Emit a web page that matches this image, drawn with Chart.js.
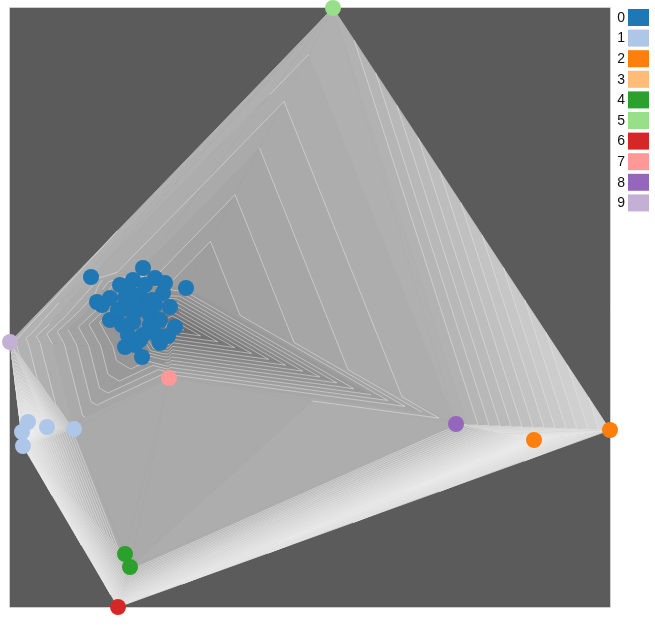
<!DOCTYPE html>
<html><head><meta charset="utf-8">
<script src="https://cdn.jsdelivr.net/npm/chart.js@4/dist/chart.umd.min.js"></script>
<style>html,body{margin:0;padding:0;background:#fff;}#wrap{width:655px;height:630px;}</style>
</head><body><div id="wrap"><canvas id="c" width="655" height="630"></canvas></div>
<script>
const classLabels = ['0','1','2','3','4','5','6','7','8','9'];
const classColors = ['#1f77b4','#aec7e8','#ff7f0e','#ffbb78','#2ca02c','#98df8a','#d62728','#ff9896','#9467bd','#c5b0d5'];

// scatter points (x, y in plot units), their class and the background field value at each point
const pointX = [91,143,133,155,128,163,186,110,125,140,170,147,102,97,110,122,133,150,143,157,175,168,125,140,160,142,138,152,130,118,
                135,145,150,160,128,118,155,135,120,165,
                28,22,23,47,74, 534,610, 125,130, 333, 118, 169, 456, 10];
const pointY = [277,268,280,278,288,293,288,298,298,295,307,308,305,302,320,325,322,325,335,335,327,336,347,340,343,357,310,300,310,312,
                300,285,315,320,335,310,305,345,285,283,
                422,432,446,427,429, 440,430, 554,567, 8, 607, 378, 424, 342];
const pointClass = [0,0,0,0,0,0,0,0,0,0,0,0,0,0,0,0,0,0,0,0,0,0,0,0,0,0,0,0,0,0,
                    0,0,0,0,0,0,0,0,0,0,
                    1,1,1,1,1, 2,2, 4,4, 5, 6, 7, 8, 9];
const pointLevel = [0.48,0.44,0.38,0.40,0.36,0.34,0.38,0.38,0.34,0.32,0.24,0.28,0.40,0.42,0.34,0.32,0.30,0.24,0.28,0.22,0.15,0.16,0.34,0.30,0.21,0.34,0.30,0.32,0.32,0.34,
                    0.32,0.36,0.28,0.21,0.32,0.34,0.30,0.32,0.38,0.38,
                    0.94,0.94,0.94,0.90,0.46, 0.94,0.76, 0.44,0.46, 0.50, 0.875, 0.44, 0.48, 0.53];
const levelCount = 50;

// grey ramp used for the filled bands: [field value, grey]
const greyStops = [[0.0, 70], [0.2, 118], [0.44, 168], [0.5, 177], [0.62, 193], [0.76, 214], [0.94, 236], [1.0, 242]];

const xRange = [10, 610];
const yRange = [8, 607];

function grayOf(v){
  let g = greyStops[greyStops.length-1][1];
  if(v <= greyStops[0][0]) g = greyStops[0][1];
  else for(let i=1;i<greyStops.length;i++){
    if(v <= greyStops[i][0]){
      const [v0,g0]=greyStops[i-1],[v1,g1]=greyStops[i];
      g = g0 + (v-v0)/(v1-v0)*(g1-g0); break;
    }
  }
  g = Math.round(g);
  return 'rgb('+g+','+g+','+g+')';
}

function delaunay(pts){
  const n = pts.length;
  let minX=Infinity,minY=Infinity,maxX=-Infinity,maxY=-Infinity;
  pts.forEach(p=>{minX=Math.min(minX,p[0]);minY=Math.min(minY,p[1]);maxX=Math.max(maxX,p[0]);maxY=Math.max(maxY,p[1]);});
  const d = Math.max(maxX-minX, maxY-minY)*20, mx=(minX+maxX)/2, my=(minY+maxY)/2;
  const all = pts.concat([[mx-2*d,my-d],[mx+2*d,my-d],[mx,my+2*d]]);
  function circ(t){
    const [ax,ay]=all[t[0]],[bx,by]=all[t[1]],[cx,cy]=all[t[2]];
    const D = 2*(ax*(by-cy)+bx*(cy-ay)+cx*(ay-by));
    const ux = ((ax*ax+ay*ay)*(by-cy)+(bx*bx+by*by)*(cy-ay)+(cx*cx+cy*cy)*(ay-by))/D;
    const uy = ((ax*ax+ay*ay)*(cx-bx)+(bx*bx+by*by)*(ax-cx)+(cx*cx+cy*cy)*(bx-ax))/D;
    return {t, ux, uy, r2:(ax-ux)*(ax-ux)+(ay-uy)*(ay-uy)};
  }
  let tris = [circ([n,n+1,n+2])];
  for(let i=0;i<n;i++){
    const [px,py]=all[i];
    const keep=[], edges=new Map();
    tris.forEach(c=>{
      if((px-c.ux)*(px-c.ux)+(py-c.uy)*(py-c.uy) < c.r2){
        const t=c.t;
        [[t[0],t[1]],[t[1],t[2]],[t[2],t[0]]].forEach(([a,b])=>{
          const k=Math.min(a,b)+'_'+Math.max(a,b);
          edges.set(k, edges.has(k)? null : [a,b]);
        });
      } else keep.push(c);
    });
    edges.forEach(e=>{ if(e) keep.push(circ([e[0],e[1],i])); });
    tris = keep;
  }
  return tris.map(c=>c.t).filter(t=>t.every(v=>v<n));
}

function clipPoly(poly, lvl, keepAbove){
  const out=[];
  for(let i=0;i<poly.length;i++){
    const a=poly[i], b=poly[(i+1)%poly.length];
    const ain = keepAbove ? a[2]>=lvl : a[2]<=lvl;
    const bin = keepAbove ? b[2]>=lvl : b[2]<=lvl;
    if(ain) out.push(a);
    if(ain!==bin){
      const t=(lvl-a[2])/(b[2]-a[2]);
      out.push([a[0]+t*(b[0]-a[0]), a[1]+t*(b[1]-a[1]), lvl]);
    }
  }
  return out;
}

const contourPlugin = {
  id:'contour',
  beforeDraw(chart){
    const {ctx, chartArea:a} = chart;
    ctx.save();
    ctx.fillStyle='#5b5b5b';
    ctx.fillRect(a.left, a.top, a.right-a.left, a.bottom-a.top);
    ctx.restore();
  },
  beforeDatasetsDraw(chart){
    const {ctx, scales:{x, y}} = chart;
    const pts = pointX.map((vx,i)=>[x.getPixelForValue(vx), y.getPixelForValue(pointY[i])]);
    const tris = delaunay(pts);
    const step = 1/levelCount;
    ctx.save();
    ctx.lineJoin='round';
    tris.forEach(t=>{
      const tri = t.map(k=>[pts[k][0], pts[k][1], pointLevel[k]]);
      const vs = tri.map(p=>p[2]);
      const vmin=Math.min(...vs), vmax=Math.max(...vs);
      const k0=Math.floor(vmin/step), k1=Math.min(levelCount-1, Math.floor(vmax/step));
      for(let k=k0;k<=k1;k++){
        const lo=k*step, hi=(k+1)*step;
        let poly = clipPoly(tri, lo, true);
        if(poly.length<3) continue;
        poly = clipPoly(poly, hi, false);
        if(poly.length<3) continue;
        const col = grayOf(lo+step/2);
        ctx.beginPath();
        poly.forEach((p,i)=> i?ctx.lineTo(p[0],p[1]):ctx.moveTo(p[0],p[1]));
        ctx.closePath();
        ctx.fillStyle=col; ctx.fill();
        ctx.strokeStyle=col; ctx.lineWidth=0.8; ctx.stroke();
      }
    });
    // iso-lines
    ctx.strokeStyle='rgba(235,235,235,0.55)';
    ctx.lineWidth=0.9;
    tris.forEach(t=>{
      const tri = t.map(k=>[pts[k][0], pts[k][1], pointLevel[k]]);
      const vs = tri.map(p=>p[2]);
      const vmin=Math.min(...vs), vmax=Math.max(...vs);
      for(let k=Math.ceil(vmin*levelCount);k<levelCount;k++){
        const L=k*step;
        if(L<=vmin || L>=vmax) continue;
        const seg=[];
        for(let i=0;i<3;i++){
          const a=tri[i], b=tri[(i+1)%3];
          if((a[2]-L)*(b[2]-L)<0){
            const tt=(L-a[2])/(b[2]-a[2]);
            seg.push([a[0]+tt*(b[0]-a[0]), a[1]+tt*(b[1]-a[1])]);
          }
        }
        if(seg.length===2){
          ctx.beginPath(); ctx.moveTo(seg[0][0],seg[0][1]); ctx.lineTo(seg[1][0],seg[1][1]); ctx.stroke();
        }
      }
    });
    // frame
    const a = chart.chartArea;
    ctx.strokeStyle='#cfcfcf'; ctx.lineWidth=1;
    ctx.strokeRect(a.left-0.5, a.top-0.5, a.right-a.left+1, a.bottom-a.top+1);
    ctx.restore();
  },
  afterDraw(chart){
    const ctx = chart.ctx;
    ctx.save();
    ctx.font = '14px "Liberation Sans", Arial, sans-serif';
    ctx.textAlign='right'; ctx.textBaseline='middle';
    classLabels.forEach((lab,i)=>{
      const cy = 17.5 + i*20.6;
      ctx.fillStyle = classColors[i];
      ctx.fillRect(628, cy-8.5, 21, 17);
      ctx.fillStyle = '#111';
      ctx.fillText(lab, 625, cy+0.5);
    });
    ctx.restore();
  }
};

const datasets = classLabels.map((lab, ci)=>({
  label: lab,
  data: pointX.map((vx,i)=>({x:vx, y:pointY[i], c:pointClass[i]})).filter(p=>p.c===ci).map(p=>({x:p.x,y:p.y})),
  backgroundColor: classColors[ci],
  borderColor: classColors[ci],
  borderWidth: 0,
  pointRadius: 8,
  pointHoverRadius: 8,
  clip: false
}));

new Chart(document.getElementById('c'), {
  type: 'scatter',
  data: { datasets },
  options: {
    responsive: false,
    animation: false,
    events: [],
    layout: { padding: { left: 10, top: 8, right: 45, bottom: 23 } },
    scales: {
      x: { type:'linear', min:xRange[0], max:xRange[1], display:false },
      y: { type:'linear', min:yRange[0], max:yRange[1], reverse:true, display:false }
    },
    plugins: { legend: { display:false }, tooltip: { enabled:false } }
  },
  plugins: [contourPlugin]
});
</script>
</body></html>
